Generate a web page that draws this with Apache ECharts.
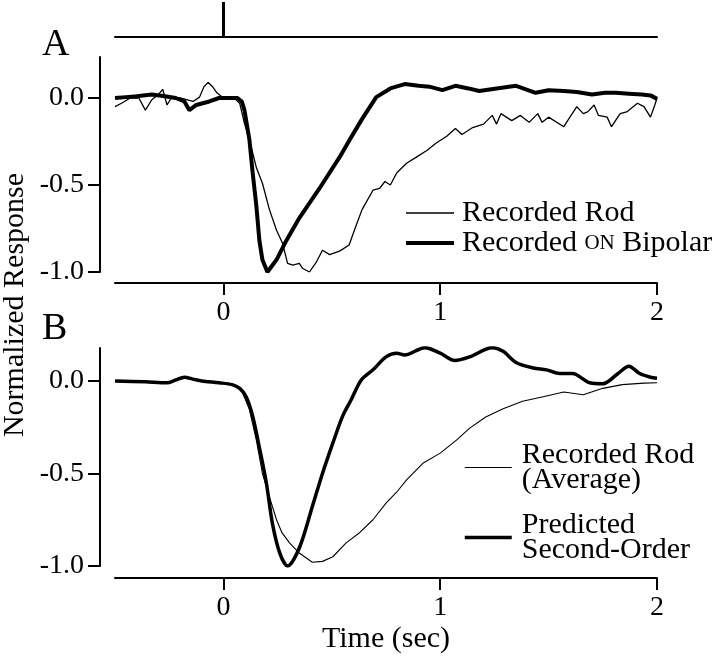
<!DOCTYPE html>
<html><head><meta charset="utf-8">
<script src="https://cdn.jsdelivr.net/npm/echarts@6/dist/echarts.min.js"></script>
<style>html,body{margin:0;padding:0;background:#fff}#c{width:720px;height:659px}</style>
</head><body><div id="c"></div>
<script>
// ---- tick positions / labels ----
const xTicks = [0, 1, 2];
const yTicks = [-1.0, -0.5, 0.0];
const stimulusOnset = [0];

// ---- Panel A: recorded rod (thin) ----
const aRodTime = [
  -0.5, -0.47, -0.43, -0.39, -0.36, -0.33, -0.3, -0.28, -0.26, -0.24,
  -0.2, -0.17, -0.14, -0.11, -0.09, -0.07, -0.05, -0.03, 0, 0.05,
  0.075, 0.097, 0.12, 0.152, 0.18, 0.212, 0.245, 0.273, 0.296, 0.32,
  0.35, 0.366, 0.397, 0.43, 0.457, 0.49, 0.536, 0.58, 0.61, 0.64,
  0.69, 0.72, 0.745, 0.77, 0.8, 0.845, 0.89, 0.94, 0.98, 1.03,
  1.07, 1.1, 1.15, 1.2, 1.24, 1.26, 1.28, 1.33, 1.37, 1.41,
  1.45, 1.47, 1.5, 1.57, 1.63, 1.66, 1.68, 1.71, 1.73, 1.77,
  1.79, 1.83, 1.86, 1.91, 1.94, 1.97, 1.99, 2.0
];
const aRodValue = [
  -0.05, -0.03, 0, 0, -0.07, -0.01, 0.02, 0.05, -0.04, 0,
  0, -0.01, -0.02, 0.005, 0.065, 0.09, 0.065, 0.03, 0, 0,
  -0.03, -0.145, -0.24, -0.40, -0.49, -0.64, -0.76, -0.835, -0.95, -0.96,
  -0.95, -0.98, -1.0, -0.94, -0.875, -0.9, -0.88, -0.845, -0.74, -0.64,
  -0.53, -0.52, -0.48, -0.5, -0.43, -0.375, -0.34, -0.3, -0.26, -0.22,
  -0.175, -0.21, -0.17, -0.15, -0.1, -0.15, -0.09, -0.13, -0.1, -0.14,
  -0.09, -0.14, -0.11, -0.165, -0.05, -0.09, -0.08, -0.04, -0.1, -0.11,
  -0.165, -0.09, -0.08, -0.03, -0.05, -0.11, -0.04, 0.0
];

// ---- Panel A: recorded ON bipolar (thick) ----
const aBipTime = [
  -0.5, -0.45, -0.4, -0.33, -0.27, -0.22, -0.18, -0.157, -0.125, -0.065,
  -0.02, 0.03, 0.065, 0.085, 0.097, 0.12, 0.135, 0.152, 0.166, 0.18,
  0.203, 0.245, 0.29, 0.35, 0.443, 0.536, 0.58, 0.64, 0.705, 0.77,
  0.836, 0.9, 0.95, 1.01, 1.07, 1.13, 1.18, 1.26, 1.35, 1.44,
  1.5, 1.57, 1.63, 1.7, 1.76, 1.81, 1.87, 1.93, 1.97, 2.0
];
const aBipValue = [
  0, 0.005, 0.01, 0.02, 0.01, 0, -0.02, -0.07, -0.04, -0.02,
  0, 0, 0, -0.02, -0.07, -0.24, -0.43, -0.62, -0.82, -0.93,
  -1.0, -0.93, -0.82, -0.69, -0.52, -0.34, -0.245, -0.12, 0.005, 0.055,
  0.08, 0.07, 0.065, 0.045, 0.07, 0.055, 0.04, 0.055, 0.07, 0.03,
  0.045, 0.04, 0.035, 0.02, 0.03, 0.03, 0.025, 0.02, 0.015, -0.005
];

// ---- Panel B: recorded rod average (thin) ----
const bRodTime = [
  -0.5, -0.36, -0.26, -0.18, -0.1, -0.02, 0.04, 0.08, 0.12, 0.152,
  0.18, 0.212, 0.245, 0.27, 0.305, 0.35, 0.41, 0.457, 0.505, 0.566,
  0.628, 0.69, 0.75, 0.8, 0.845, 0.92, 1.0, 1.075, 1.136, 1.21,
  1.29, 1.38, 1.475, 1.57, 1.66, 1.75, 1.84, 1.94, 2.0
];
const bRodValue = [
  0, -0.005, -0.01, 0.015, 0, -0.01, -0.02, -0.04, -0.155, -0.32,
  -0.5, -0.625, -0.75, -0.82, -0.875, -0.93, -0.98, -0.975, -0.95, -0.875,
  -0.82, -0.75, -0.66, -0.6, -0.535, -0.445, -0.39, -0.32, -0.255, -0.195,
  -0.15, -0.11, -0.085, -0.06, -0.075, -0.04, -0.02, -0.012, -0.01
];

// ---- Panel B: predicted second-order (thick) ----
const bPredTime = [
  -0.5, -0.36, -0.26, -0.22, -0.18, -0.14, -0.1, -0.02, 0.04, 0.075,
  0.105, 0.135, 0.166, 0.198, 0.226, 0.26, 0.296, 0.351, 0.41, 0.457,
  0.505, 0.55, 0.59, 0.636, 0.69, 0.75, 0.8, 0.836, 0.93, 1.0,
  1.067, 1.136, 1.24, 1.29, 1.35, 1.43, 1.49, 1.55, 1.61, 1.69,
  1.75, 1.82, 1.87, 1.92, 1.97, 2.0
];
const bPredValue = [
  0, -0.005, -0.01, 0.005, 0.02, 0.01, 0, -0.01, -0.02, -0.04,
  -0.085, -0.19, -0.36, -0.55, -0.77, -0.93, -1.0, -0.9, -0.68, -0.5,
  -0.335, -0.19, -0.1, 0.005, 0.06, 0.13, 0.15, 0.14, 0.18, 0.15,
  0.11, 0.13, 0.18, 0.16, 0.1, 0.07, 0.06, 0.04, 0.04, -0.01,
  -0.015, 0.04, 0.08, 0.04, 0.02, 0.015
];

const zip = (t, v) => t.map((x, i) => [x, v[i]]);
const FONT = 'Liberation Serif';
const BLACK = '#000';
const W_THIN_A = 1.3, W_THICK_A = 4, W_THIN_B = 1.1, W_THICK_B = 3.5;

function xAxisFor(grid, offset, extra) {
  return Object.assign({
    gridIndex: grid, type: 'value', min: -0.5, max: 2, offset: offset,
    axisLine: { show: true, onZero: false, lineStyle: { color: BLACK, width: 2 } },
    axisTick: { show: true, inside: false, length: 12, customValues: xTicks, lineStyle: { color: BLACK, width: 2 } },
    axisLabel: { show: true, customValues: xTicks, margin: 16, color: BLACK, fontSize: 28, fontFamily: FONT },
    splitLine: { show: false }
  }, extra || {});
}
function yAxisFor(grid, max) {
  return {
    gridIndex: grid, type: 'value', min: -1, max: max, offset: 15,
    axisLine: { show: true, onZero: false, lineStyle: { color: BLACK, width: 2 } },
    axisTick: { show: true, inside: false, length: 12, customValues: yTicks, lineStyle: { color: BLACK, width: 2 } },
    axisLabel: { show: true, customValues: yTicks, margin: 16, color: BLACK, fontSize: 28, fontFamily: FONT,
      formatter: v => Number(v).toFixed(1) },
    splitLine: { show: false }
  };
}
function lineSeries(name, xi, data, width, smooth) {
  return {
    name: name, type: 'line', xAxisIndex: xi, yAxisIndex: xi, data: data,
    symbol: 'none', showSymbol: false, smooth: smooth || false,
    lineStyle: { color: BLACK, width: width }, itemStyle: { color: BLACK },
    animation: false, z: width > 2 ? 3 : 2
  };
}
function legendItem(name, width) {
  return { name: name, itemStyle: { opacity: 0 }, lineStyle: { width: width, color: BLACK } };
}

const chart = echarts.init(document.getElementById('c'), null, { renderer: 'canvas' });
chart.setOption({
  backgroundColor: '#fff',
  animation: false,
  textStyle: { fontFamily: FONT, color: BLACK },
  grid: [
    { left: 115, right: 63, top: 2, height: 35, outerBoundsMode: 'none' },
    { left: 115, right: 63, top: 57, height: 215, outerBoundsMode: 'none' },
    { left: 115, right: 63, top: 348, height: 218, outerBoundsMode: 'none' }
  ],
  xAxis: [
    {
      gridIndex: 0, type: 'value', min: -0.5, max: 2,
      axisLine: { show: true, onZero: false, lineStyle: { color: BLACK, width: 2 } },
      axisTick: { show: true, inside: true, length: 35, customValues: stimulusOnset, lineStyle: { color: BLACK, width: 3 } },
      axisLabel: { show: false }, splitLine: { show: false }
    },
    xAxisFor(1, 11),
    xAxisFor(2, 12, {
      name: 'Time (sec)', nameLocation: 'middle', nameGap: 46,
      nameTextStyle: { color: BLACK, fontSize: 30, fontFamily: FONT }
    })
  ],
  yAxis: [
    { gridIndex: 0, type: 'value', min: 0, max: 1, show: false },
    yAxisFor(1, 0.2356),
    yAxisFor(2, 0.178)
  ],
  legend: [
    {
      data: [legendItem('Recorded Rod', W_THIN_A), legendItem('Recorded ON Bipolar', W_THICK_A)],
      orient: 'vertical', left: 404, top: 198, padding: 0,
      itemWidth: 48, itemHeight: 29, itemGap: 0,
      itemStyle: { opacity: 0 },
      formatter: n => n === 'Recorded ON Bipolar' ? 'Recorded {sc|ON} Bipolar' : n,
      textStyle: {
        color: BLACK, fontSize: 30, fontFamily: FONT, lineHeight: 29, padding: [0, 0, 0, 3],
        rich: { sc: { fontSize: 21, fontFamily: FONT, color: BLACK, lineHeight: 29 } }
      },
      selectedMode: false
    },
    {
      data: [legendItem('Recorded Rod\n(Average)', W_THIN_B), legendItem('Predicted\nSecond-Order', W_THICK_B)],
      orient: 'vertical', left: 463, top: 440, padding: 0,
      itemWidth: 47, itemHeight: 14, itemGap: 15,
      itemStyle: { opacity: 0 },
      textStyle: { color: BLACK, fontSize: 30, fontFamily: FONT, lineHeight: 25, padding: [0, 0, 0, 5] },
      selectedMode: false
    }
  ],
  graphic: [
    { type: 'text', left: 42, top: 26, style: { text: 'A', font: '38px "Liberation Serif"', fill: BLACK } },
    { type: 'text', left: 42, top: 310, style: { text: 'B', font: '38px "Liberation Serif"', fill: BLACK } },
    { type: 'text', x: 15, y: 305, rotation: Math.PI / 2,
      style: { text: 'Normalized Response', font: '30px "Liberation Serif"', fill: BLACK, align: 'center', verticalAlign: 'middle' } }
  ],
  series: [
    lineSeries('Recorded Rod', 1, zip(aRodTime, aRodValue), W_THIN_A),
    lineSeries('Recorded ON Bipolar', 1, zip(aBipTime, aBipValue), W_THICK_A),
    lineSeries('Recorded Rod\n(Average)', 2, zip(bRodTime, bRodValue), W_THIN_B),
    lineSeries('Predicted\nSecond-Order', 2, zip(bPredTime, bPredValue), W_THICK_B, 0.3)
  ]
});
</script>
</body></html>
